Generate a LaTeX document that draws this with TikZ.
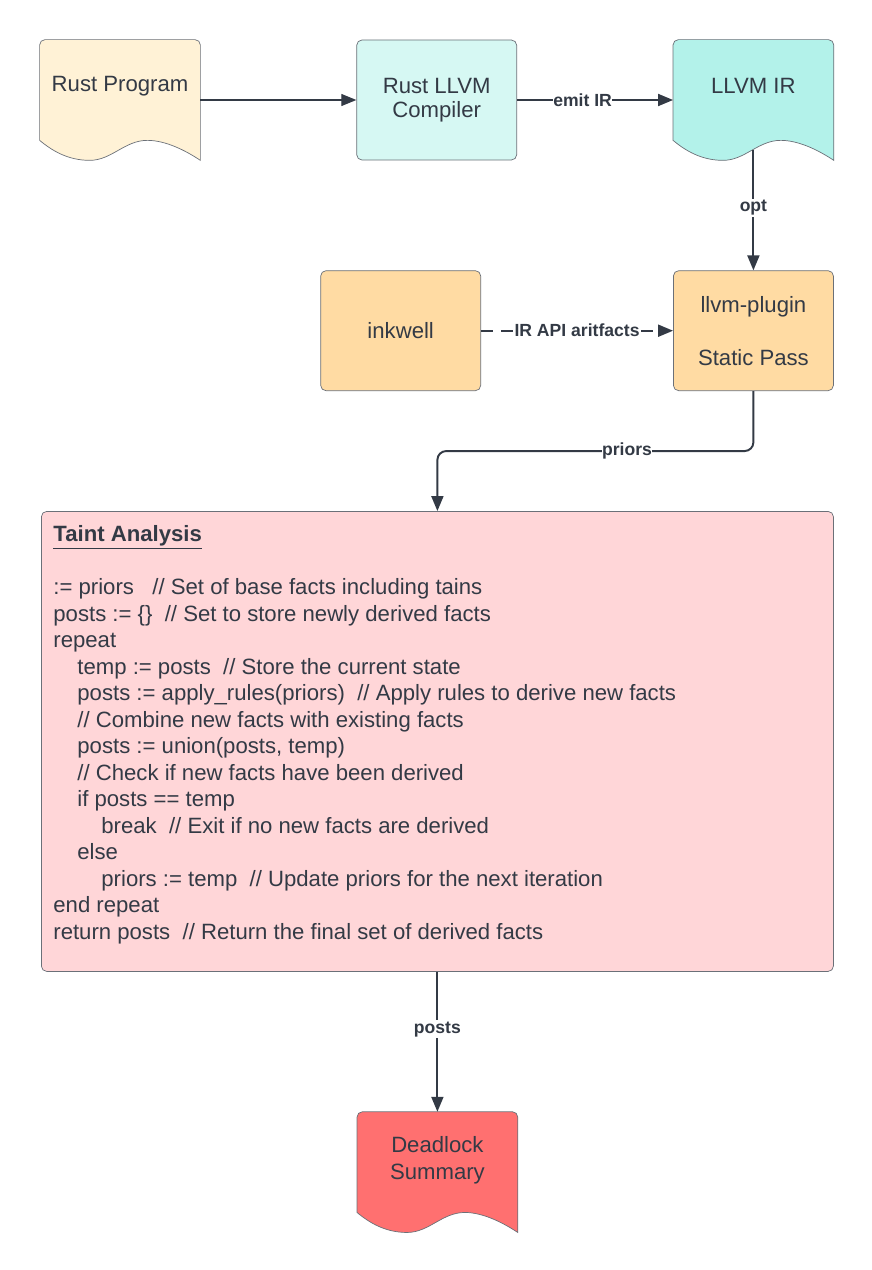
\documentclass[tikz,border=0pt]{standalone}
\usepackage{fontspec}
\setmainfont{Liberation Sans}
\usetikzlibrary{positioning,arrows.meta,backgrounds}

\definecolor{edgegray}{HTML}{6B7078}
\definecolor{inkdark}{HTML}{333A45}
\definecolor{cream}{HTML}{FFF2D6}
\definecolor{mint}{HTML}{D6F8F3}
\definecolor{aqua}{HTML}{B3F2EA}
\definecolor{peach}{HTML}{FFDBA3}
\definecolor{blush}{HTML}{FFD6D8}
\definecolor{coral}{HTML}{FF7070}

\newcommand{\bodyfont}{\fontsize{12.6}{15.1}\selectfont}

\tikzset{
	procbox/.style={draw=edgegray, rounded corners=3pt, minimum width=3.2cm, minimum height=2.4cm, align=center, text=inkdark, font=\bodyfont},
	docbox/.style={minimum width=3.2cm, minimum height=2.4cm, inner sep=0pt},
	flow/.style={draw=inkdark, line width=1.1pt, -{Triangle[length=0.3cm,width=0.24cm]}},
	tag/.style={font=\fontsize{10}{12}\selectfont\bfseries, text=inkdark, fill=white, inner xsep=0pt, inner ysep=1pt},
	every label/.style={text=inkdark, font=\bodyfont, align=center},
}

\newcommand{\docshape}[2]{%
	\draw[draw=edgegray, fill=#2] ([yshift=0.4cm]#1.south west)
		-- ([yshift=-3pt]#1.north west) arc[start angle=180, end angle=90, radius=3pt]
		-- ([xshift=-3pt]#1.north east) arc[start angle=90, end angle=0, radius=3pt]
		-- (#1.south east)
		.. controls ([xshift=-0.3cm,yshift=0.2cm]#1.south east) and ([xshift=-0.7cm,yshift=0.4cm]#1.south east) .. ([xshift=-1.06cm,yshift=0.4cm]#1.south east)
		.. controls ([xshift=1.7cm,yshift=0.4cm]#1.south west) and ([xshift=1.44cm]#1.south west) .. ([xshift=1.0cm]#1.south west)
		.. controls ([xshift=0.56cm]#1.south west) and ([xshift=0.24cm,yshift=0.2cm]#1.south west) .. cycle;}

\begin{document}
\begin{tikzpicture}
	\node [docbox, label={[yshift=0.28cm]center:Rust Program}] (rust) {};
	\node [procbox, fill=mint, font=\fontsize{12.6}{13.6}\selectfont, right=3.12cm of rust] (compiler) {Rust LLVM\\Compiler};
	\node [docbox, right=3.12cm of compiler, label={[yshift=0.28cm]center:LLVM IR}] (ir) {};
	\node [procbox, fill=peach, below=2.2cm of ir] (plugin) {llvm-plugin\\[15.1pt]Static Pass};
	\node [procbox, fill=peach, left=3.84cm of plugin] (inkwell) {inkwell};
	\node [draw=edgegray, fill=blush, rounded corners=3pt, minimum width=15.84cm, minimum height=9.2cm, below left=2.4cm and 0cm of plugin.south east] (taint) {};
	\node [anchor=north west, align=left, text=inkdark, font=\bodyfont, inner sep=0pt] (code) at ([xshift=0.24cm,yshift=-0.28cm]taint.north west) {%
		\underline{\textbf{Taint Analysis}}\\[15.1pt]
		:= priors~~~// Set of base facts including tains\\
		posts := \{\}~~// Set to store newly derived facts\\
		repeat\\
		\hspace*{0.48cm}temp := posts~~// Store the current state\\
		\hspace*{0.48cm}posts := apply\_rules(priors)~~// Apply rules to derive new facts\\
		\hspace*{0.48cm}// Combine new facts with existing facts\\
		\hspace*{0.48cm}posts := union(posts, temp)\\
		\hspace*{0.48cm}// Check if new facts have been derived\\
		\hspace*{0.48cm}if posts == temp\\
		\hspace*{0.96cm}break~~// Exit if no new facts are derived\\
		\hspace*{0.48cm}else\\
		\hspace*{0.96cm}priors := temp~~// Update priors for the next iteration\\
		end repeat\\
		return posts~~// Return the final set of derived facts};
	\node [docbox, below=2.8cm of taint, label={[yshift=0.24cm]center:Deadlock\\Summary}] (dead) {};
	\coordinate (irout) at ([yshift=0.2cm]ir.south);

	\begin{scope}[on background layer]
		\docshape{rust}{cream}
		\docshape{ir}{aqua}
		\docshape{dead}{coral}
	\end{scope}

	\draw [flow, line width=0.6pt] (rust.east) -- (compiler.west);
	\draw [flow] (compiler.east) -- node[tag, pos=0.42]{emit IR} (ir.west);
	\draw [flow] (irout) -- node[tag, pos=0.48]{opt} (plugin.north);
	\draw [flow, dash pattern=on 0.24cm off 0.16cm] (inkwell.east) -- node[tag]{IR API aritfacts} (plugin.west);
	\draw [flow, rounded corners=5pt] (plugin.south) -- ++(0,-1.2cm) -| node[tag, pos=0.2]{priors} (taint.north);
	\draw [flow] (taint.south) -- node[tag, pos=0.41]{posts} (dead.north);

	\useasboundingbox ([shift={(-2.4cm,2.0cm)}]rust.center) rectangle ++(17.44cm,-25.4cm);
\end{tikzpicture}
\end{document}
